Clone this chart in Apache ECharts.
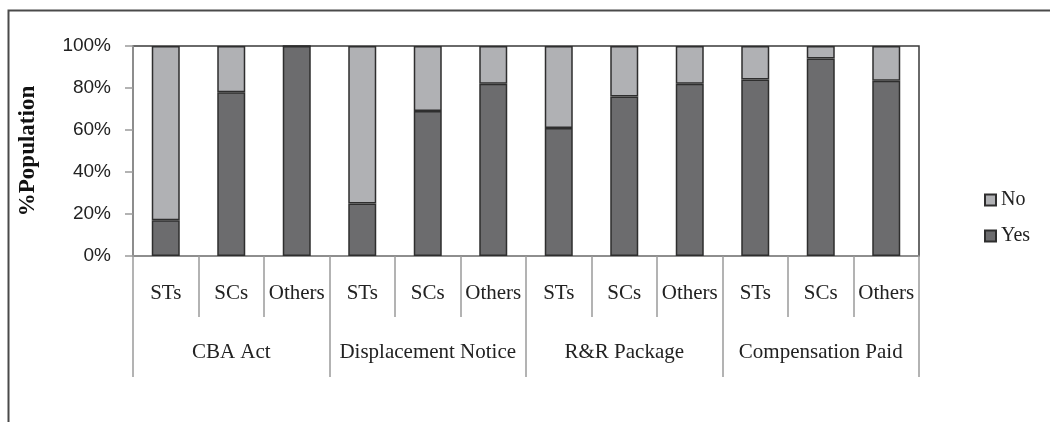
<!DOCTYPE html>
<html>
<head>
<meta charset="utf-8">
<script src="https://cdn.jsdelivr.net/npm/echarts@6/dist/echarts.min.js"></script>
<style>
  html, body { margin: 0; padding: 0; background: #fff; }
  #chart { width: 1050px; height: 422px; }
</style>
</head>
<body>
<div id="chart"></div>
<script>
// categories (two levels)
const groups = ['CBA Act', 'Displacement Notice', 'R&R Package', 'Compensation Paid']
const subCats = ['STs', 'SCs', 'Others', 'STs', 'SCs', 'Others', 'STs', 'SCs', 'Others', 'STs', 'SCs', 'Others']

// % population
const yesValues = [17, 78, 100, 25, 69, 82, 61, 76, 82, 84, 94, 83.5]
const noValues = [83, 22, 0, 75, 31, 18, 39, 24, 18, 16, 6, 16.5]

const yTicks = [0, 20, 40, 60, 80, 100]

const serif = '"Liberation Serif", "Times New Roman", serif'
const sans = '"Liberation Sans", Arial, sans-serif'
const axisGray = '#9a9a9a'
const barBorder = '#2e2e2e'

const chart = echarts.init(document.getElementById('chart'))

chart.setOption({
  animation: false,
  backgroundColor: '#fff',
  graphic: [
    {
      type: 'polyline',
      shape: { points: [[8.5, 422], [8.5, 10.5], [1050, 10.5]] },
      style: { stroke: '#4a4a4a', lineWidth: 2, fill: null }
    }
  ],
  grid: {
    left: 133,
    right: 131,
    top: 46,
    bottom: 166,
    show: true,
    borderColor: '#3a3a3a',
    borderWidth: 1.5
  },
  legend: {
    orient: 'vertical',
    left: 984,
    top: 190,
    padding: 0,
    itemWidth: 11,
    itemHeight: 11,
    itemGap: 16,
    icon: 'rect',
    data: ['No', 'Yes'],
    textStyle: { fontFamily: serif, fontSize: 20, color: '#222' }
  },
  xAxis: [
    {
      type: 'category',
      data: subCats,
      position: 'bottom',
      axisLine: { show: true, lineStyle: { color: axisGray, width: 1.5 } },
      axisTick: { show: true, interval: 0, length: 61, lineStyle: { color: axisGray, width: 1.5 } },
      axisLabel: { interval: 0, margin: 27, fontFamily: serif, fontSize: 21, color: '#222' }
    },
    {
      type: 'category',
      data: groups,
      position: 'bottom',
      axisLine: { show: false },
      axisTick: { show: true, interval: 0, length: 121, lineStyle: { color: axisGray, width: 1.5 } },
      axisLabel: { interval: 0, margin: 86, fontFamily: serif, fontSize: 21, color: '#222' }
    }
  ],
  yAxis: {
    type: 'value',
    min: yTicks[0],
    max: yTicks[yTicks.length - 1],
    interval: 20,
    name: '%Population',
    nameLocation: 'middle',
    nameGap: 93,
    nameTextStyle: { fontFamily: serif, fontSize: 23, fontWeight: 'bold', color: '#111' },
    axisLine: { show: true, lineStyle: { color: axisGray, width: 1.5 } },
    axisTick: { show: true, length: 8, lineStyle: { color: axisGray, width: 1.5 } },
    splitLine: { show: false },
    axisLabel: { formatter: '{value}%', margin: 22, fontFamily: sans, fontSize: 19, color: '#222' }
  },
  series: [
    {
      name: 'Yes',
      type: 'bar',
      stack: 'pop',
      xAxisIndex: 0,
      barWidth: 28,
      data: yesValues,
      itemStyle: { color: '#6c6c6e', borderColor: barBorder, borderWidth: 1.5 }
    },
    {
      name: 'No',
      type: 'bar',
      stack: 'pop',
      xAxisIndex: 0,
      barWidth: 28,
      data: noValues,
      itemStyle: { color: '#b0b1b4', borderColor: barBorder, borderWidth: 1.5 }
    }
  ]
})
</script>
</body>
</html>
